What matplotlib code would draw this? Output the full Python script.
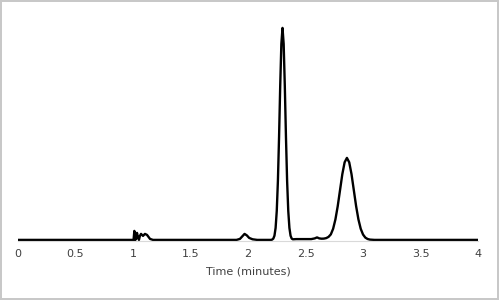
import matplotlib.pyplot as plt

# retention time (minutes) and detector signal (arbitrary units)
time = [0.0, 0.5, 0.98, 1.005, 1.012, 1.016, 1.020, 1.025, 1.035, 1.044, 1.052,
        1.06, 1.07, 1.087, 1.104, 1.122, 1.148, 1.174, 1.5, 1.90, 1.93, 1.95,
        1.97, 1.99, 2.01, 2.04, 2.08,
        2.20, 2.21, 2.22, 2.23, 2.24, 2.25, 2.26, 2.27, 2.28, 2.29, 2.30,
        2.31, 2.32, 2.33, 2.34, 2.35, 2.36, 2.37, 2.38, 2.39, 2.42, 2.55,
        2.58, 2.60, 2.62, 2.64,
        2.66, 2.68, 2.70, 2.72, 2.74, 2.76, 2.78, 2.80, 2.82, 2.84, 2.86,
        2.88, 2.90, 2.92, 2.94, 2.96, 2.98, 3.00, 3.02, 3.04, 3.06, 3.10,
        3.5, 4.0]
signal = [0.0, 0.0, 0.0, 0.0, 9.0, -7.0, 2.0, 1.0, 7.0, 2.0, 0.0,
          4.0, 6.0, 4.0, 6.0, 5.0, 1.0, 0.0, 0.0, 0.0, 1.0, 3.5,
          6.0, 4.5, 2.0, 0.6, 0.0,
          0.0, 0.3, 1.3, 4.2, 12.0, 29.0, 59.0, 103.0, 154.0, 196.0, 212.0,
          196.0, 154.0, 103.0, 59.0, 29.0, 12.0, 4.2, 1.3, 0.6, 0.8, 0.8,
          1.5, 2.5, 1.5, 1.2,
          1.3, 1.8, 3.0, 5.5, 11.1, 20.5, 33.7, 49.7, 65.7, 77.6, 82.0,
          77.6, 65.7, 49.7, 33.7, 20.5, 11.1, 5.4, 2.3, 0.9, 0.3, 0.0,
          0.0, 0.0]

xticks = [0, 0.5, 1, 1.5, 2, 2.5, 3, 3.5, 4]
xticklabels = ['0', '0.5', '1', '1.5', '2', '2.5', '3', '3.5', '4']

fig = plt.figure(figsize=(4.99, 3.0), dpi=100, edgecolor='#c8c8c8', linewidth=1.5)
ax = fig.add_axes([0.036, 0.197, 0.922, 0.77])
ax.plot(time, signal, color='black', linewidth=1.7, solid_joinstyle='round')

ax.set_xlim(0, 4)
ax.set_ylim(-1, 230)
ax.set_xticks(xticks)
ax.set_xticklabels(xticklabels)
ax.tick_params(axis='x', length=0, pad=6, labelsize=8, labelcolor='#404040')
ax.set_yticks([])
for s in ['top', 'left', 'right']:
    ax.spines[s].set_visible(False)
ax.spines['bottom'].set_color('#d9d9d9')
ax.set_xlabel('Time (minutes)', fontsize=8, color='#404040', labelpad=5)

fig.savefig('out.png', dpi=100, edgecolor=fig.get_edgecolor())
